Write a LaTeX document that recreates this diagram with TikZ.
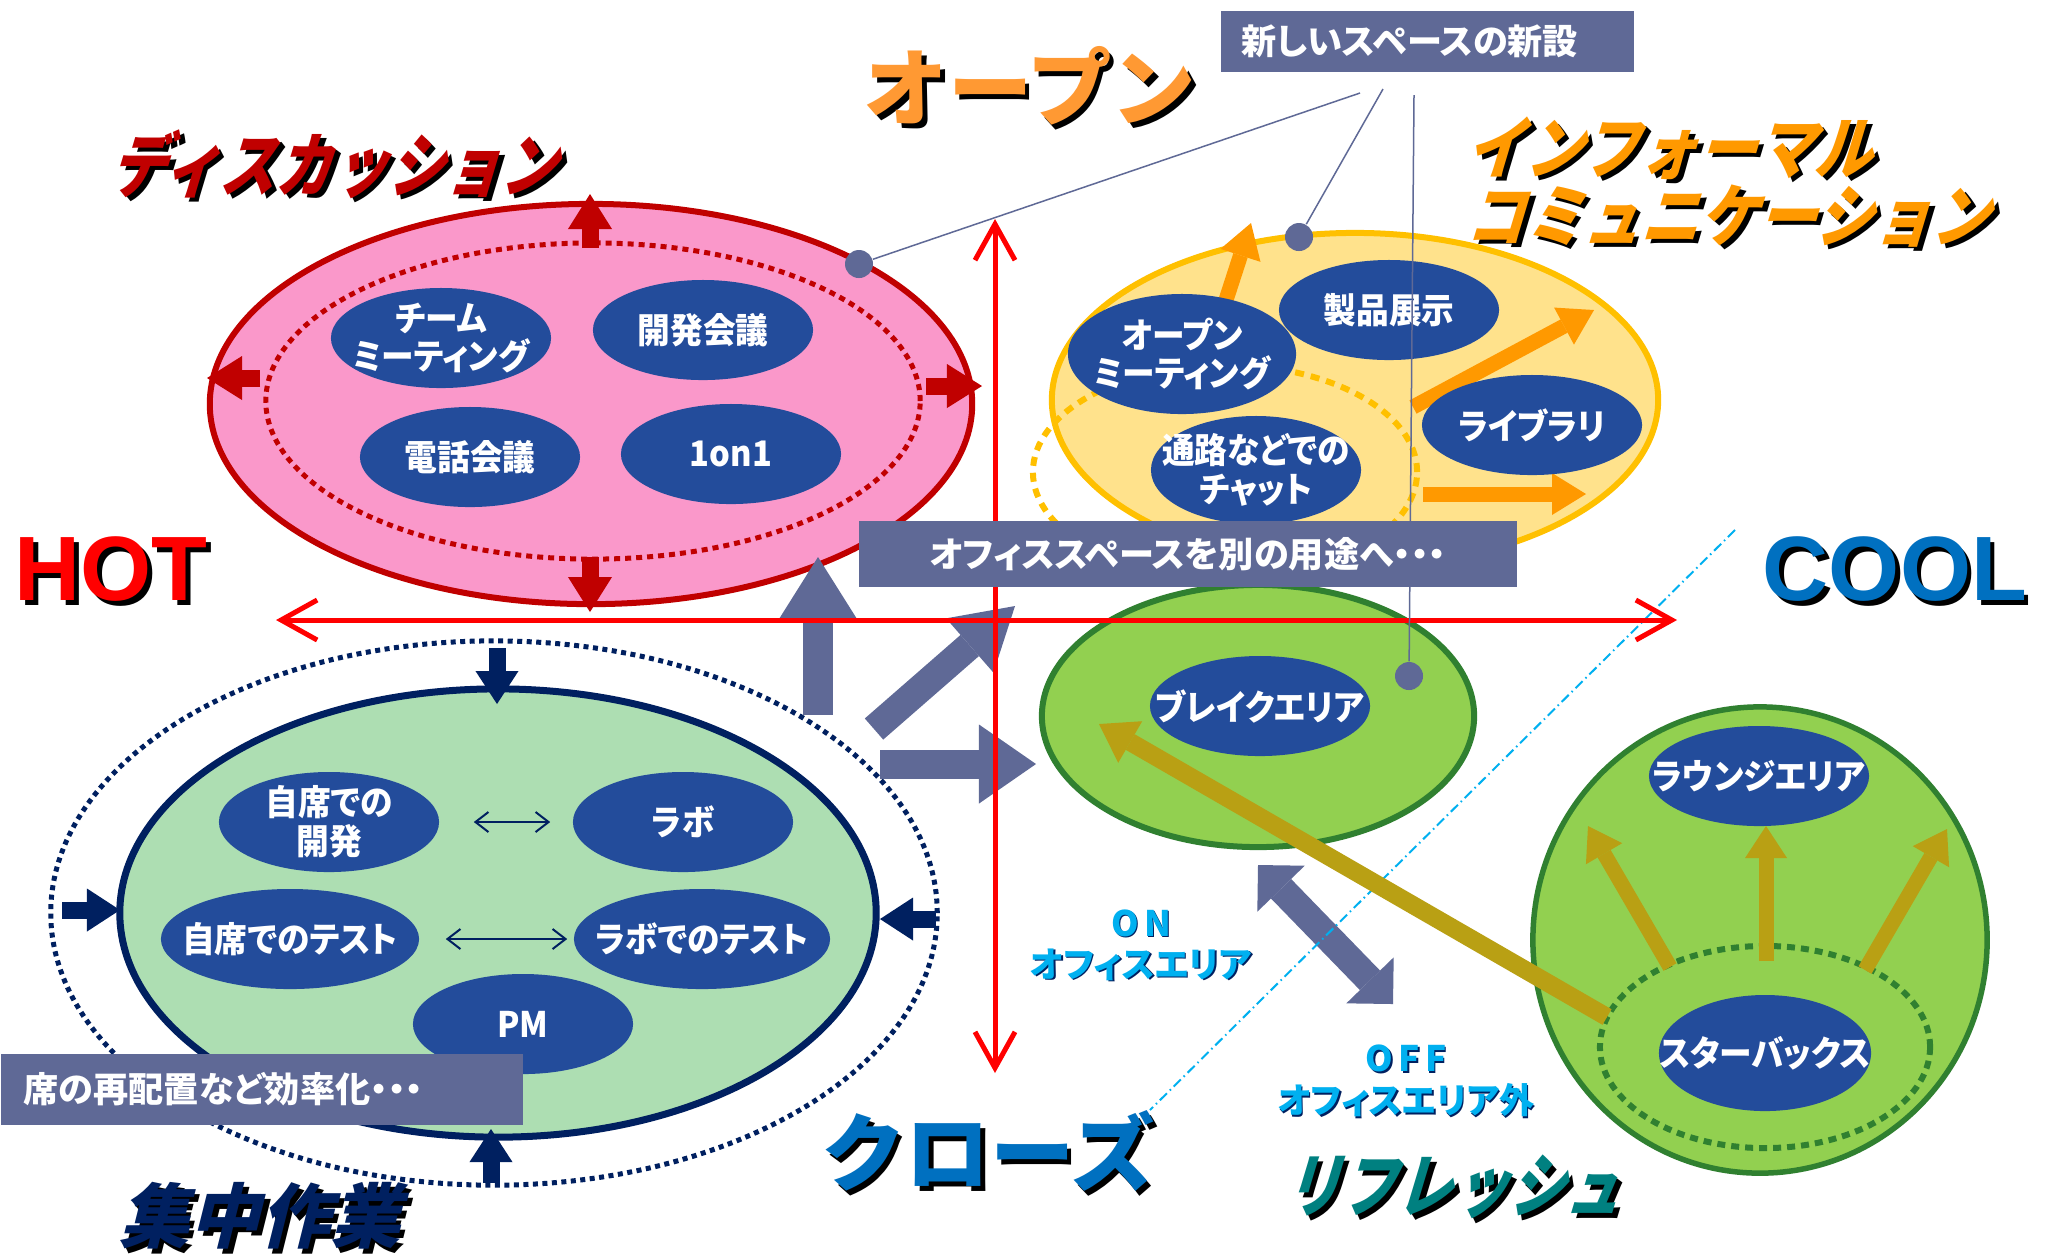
\documentclass[tikz,border=0pt]{standalone}
\usepackage{fontspec}
\setmainfont{Noto Sans CJK JP}
\newfontfamily\jp{Noto Sans CJK JP}[RawFeature=+palt]
\newfontfamily\jpn{Noto Sans CJK JP}[RawFeature=+palt,FakeStretch=0.93]
\newfontfamily\ttlA{Noto Sans CJK JP}[FakeSlant=0.3,FakeStretch=0.8]
\newfontfamily\ttlB{Noto Sans CJK JP}[FakeSlant=0.3,FakeStretch=0.85]
\newfontfamily\ttlC{Noto Sans CJK JP}[FakeSlant=0.25]
\newfontfamily\ttlU{Noto Sans CJK JP}
\newfontfamily\lat{Liberation Sans}
\usetikzlibrary{arrows.meta,shapes.geometric}
\definecolor{dred}{RGB}{192,0,0}
\definecolor{pinkF}{RGB}{250,152,202}
\definecolor{blueE}{RGB}{35,76,155}
\definecolor{yellowF}{RGB}{255,226,140}
\definecolor{gold}{RGB}{255,192,0}
\definecolor{orangeA}{RGB}{255,153,0}
\definecolor{orangeT}{RGB}{255,153,51}
\definecolor{greenF}{RGB}{146,208,80}
\definecolor{greenD}{RGB}{48,128,48}
\definecolor{mint}{RGB}{173,222,178}
\definecolor{navy}{RGB}{0,32,96}
\definecolor{slate}{RGB}{95,105,150}
\definecolor{olive}{RGB}{185,160,20}
\definecolor{cyanL}{RGB}{0,176,240}
\definecolor{tealT}{RGB}{0,128,128}
\definecolor{blueT}{RGB}{0,112,192}
\newcommand{\mytitle}[5]{%
 \node[inner sep=0pt,#4,text=black,xshift=0.045cm,yshift=-0.045cm] (#1S) at (#2,#3) {#5};
 \node[inner sep=0pt,#4] (#1) at (#2,#3) {#5};}
\newcommand{\bell}[5]{%
 \node[blueell,#4] (#1) at (#2,#3) {};
 \node[blt] (#1T) at (#2,#3) {#5};}
\begin{document}
\begin{tikzpicture}[x=0.01cm,y=-0.01cm,
 blueell/.style={ellipse, fill=blueE, inner sep=0pt, minimum width=2.2cm, minimum height=1.0cm},
 blt/.style={text=white, font=\jpn\bfseries\fontsize{10}{11}\selectfont, align=center, inner sep=0pt},
 bigell/.style={ellipse, inner sep=0pt},
 redblk/.style={dred, line width=0.17cm, -{Triangle[length=0.35cm,width=0.44cm,line width=0pt]}},
 navblk/.style={navy, line width=0.17cm, -{Triangle[length=0.33cm,width=0.43cm,line width=0pt]}},
 orblk/.style={orangeA, line width=0.15cm, -{Triangle[length=0.34cm,width=0.42cm,line width=0pt]}},
 olblk/.style={olive, line width=0.15cm, -{Triangle[length=0.32cm,width=0.42cm,line width=0pt]}},
 thinarr/.style={navy, line width=0.02cm, {Straight Barb[length=0.13cm,width=0.2cm]}-{Straight Barb[length=0.13cm,width=0.2cm]}},
 axis/.style={red, line width=0.05cm, {Straight Barb[length=0.36cm,width=0.4cm]}-{Straight Barb[length=0.36cm,width=0.4cm]}},
 greybox/.style={fill=slate, text=white, font=\jp\bfseries\fontsize{10}{12}\selectfont, inner ysep=0pt},
 leader/.style={slate, line width=0.015cm},
 dotnode/.style={circle, fill=slate, inner sep=0pt, minimum size=0.28cm}
]
\fill[white] (0,0) rectangle (2055,1253);
\useasboundingbox (0,0) rectangle (2055,1253);

% ---------- Discussion (pink)
\node[bigell, draw=dred, line width=0.06cm, fill=pinkF, minimum width=7.62cm, minimum height=4.0cm] (disc) at (591,404) {};
\draw[dred, line width=0.05cm, dash pattern=on 0.06cm off 0.05cm] (593,401) ellipse [x radius=3.27cm, y radius=1.58cm];
\draw[redblk] (590,248) -- (590,194);
\draw[redblk] (260,378) -- (207,378);
\draw[redblk] (926,386) -- (982,386);
\draw[redblk] (590,557) -- (590,612);
\bell{team}{441}{338}{}{チーム\\ミーティング}
\bell{kaigi}{703}{330}{}{開発会議}
\bell{denwa}{470}{457}{}{電話会議}
\bell{oneon}{731}{454}{}{1on1}

% ---------- Informal (yellow)
\node[bigell, draw=gold, line width=0.06cm, fill=yellowF, minimum width=6.06cm, minimum height=3.34cm] (info) at (1355,400) {};
\draw[gold, line width=0.06cm, dash pattern=on 0.09cm off 0.07cm] (1225,472) ellipse [x radius=1.92cm, y radius=1.07cm];
\draw[orblk] (1226,300) -- (1251,223);
\draw[orblk] (1413,407) -- (1594,310);
\draw[orblk] (1423,494) -- (1586,494);
\bell{openmt}{1182}{354}{minimum width=2.28cm, minimum height=1.2cm}{オープン\\ミーティング}
\bell{seihin}{1389}{310}{}{製品展示}
\bell{lib}{1532}{425}{}{ライブラリ}
\bell{tsuro}{1256}{470}{minimum width=2.1cm, minimum height=1.08cm}{通路などでの\\チャット}

% ---------- Break area (green)
\node[bigell, draw=greenD, line width=0.06cm, fill=greenF, minimum width=4.32cm, minimum height=2.62cm] (brk) at (1258,716) {};
\bell{brkA}{1260}{706}{}{ブレイクエリア}

% ---------- Refresh (big green)
\node[bigell, draw=greenD, line width=0.055cm, fill=greenF, minimum width=4.54cm, minimum height=4.66cm] (ref) at (1760,940) {};
\draw[greenD, line width=0.06cm, dash pattern=on 0.08cm off 0.06cm] (1765,1047) ellipse [x radius=1.65cm, y radius=1.01cm];
\draw[olblk] (1670,967) -- (1588,826);
\draw[olblk] (1766,961) -- (1766,826);
\draw[olblk] (1865,970) -- (1947,829);
\bell{lounge}{1759}{776}{}{ラウンジエリア}
\bell{sbux}{1765}{1053}{minimum width=2.12cm, minimum height=1.16cm}{スターバックス}

% ---------- Focus (navy)
\draw[navy, line width=0.05cm, dash pattern=on 0.05cm off 0.045cm] (494,913) ellipse [x radius=4.43cm, y radius=2.72cm];
\node[bigell, draw=navy, line width=0.07cm, fill=mint, minimum width=7.56cm, minimum height=4.48cm] (focus) at (498,913) {};
\draw[navblk] (497,648) -- (497,704);
\draw[navblk] (62,910) -- (120,910);
\draw[navblk] (936,919) -- (880,919);
\draw[navblk] (491,1183) -- (491,1129);
\bell{jkai}{329}{822}{}{自席での\\開発}
\bell{labo}{683}{822}{}{ラボ}
\bell{jtest}{290}{939}{minimum width=2.58cm}{自席でのテスト}
\bell{ltest}{702}{939}{minimum width=2.56cm}{ラボでのテスト}
\bell{pm}{523}{1024}{}{PM}
\draw[thinarr, shorten <=0.34cm, shorten >=0.22cm] (jkai) -- (labo);
\draw[thinarr, shorten <=0.26cm, shorten >=0.06cm] (jtest) -- (ltest);

% ---------- grey block arrows
\coordinate (gu1) at (818,715); \coordinate (gu2) at (818,557);
\coordinate (gd1) at (874,729); \coordinate (gd2) at (1015,606);
\coordinate (gr1) at (880,764); \coordinate (gr2) at (1036,764);
\coordinate (gb1) at (1258,865); \coordinate (gb2) at (1393,1004);
\draw[slate, line width=0.30cm, -{Triangle[length=0.62cm,width=0.78cm,line width=0pt]}] (gu1) -- (gu2);
\draw[slate, line width=0.28cm, -{Triangle[length=0.6cm,width=0.72cm,line width=0pt]}] (gd1) -- (gd2);
\draw[slate, line width=0.29cm, -{Triangle[length=0.57cm,width=0.79cm,line width=0pt]}] (gr1) -- (gr2);
\draw[slate, line width=0.28cm, {Triangle[length=0.33cm,width=0.66cm,line width=0pt]}-{Triangle[length=0.33cm,width=0.66cm,line width=0pt]}] (gb1) -- (gb2);

% ---------- cyan divider
\coordinate (cy1) at (1735,530); \coordinate (cy2) at (1150,1110);
\draw[cyanL, line width=0.02cm, dash pattern=on 0.1cm off 0.04cm on 0.015cm off 0.04cm] (cy1) -- (cy2);

% ---------- olive long arrow
\coordinate (ol1) at (1607,1017); \coordinate (ol2) at (1099,724);
\draw[olive, line width=0.18cm, -{Triangle[length=0.36cm,width=0.48cm,line width=0pt]}] (ol1) -- (ol2);

% ---------- axes
\coordinate (hl) at (276,620); \coordinate (hr) at (1677,620);
\coordinate (vt) at (995,219); \coordinate (vb) at (995,1073);
\draw[axis] (hl) -- (hr);
\draw[axis] (vt) -- (vb);

% ---------- boxes
\node[greybox, anchor=north west, minimum height=0.61cm, text width=3.71cm, inner xsep=0.21cm, align=left] (newsp) at (1220,10) {新しいスペースの新設};
\node[greybox, anchor=north west, minimum width=6.58cm, minimum height=0.66cm] (office) at (858,520) {オフィススペースを別の用途へ・・・};
\node[greybox, anchor=north west, minimum height=0.71cm, text width=4.76cm, inner xsep=0.23cm, align=left] (seat) at (0,1053) {席の再配置など効率化・・・};

% ---------- leaders
\coordinate (l1) at (1360,93); \coordinate (l2) at (1383,89); \coordinate (l3) at (1414,95);
\node[dotnode] (dot1) at (859,264) {};
\node[dotnode] (dot2) at (1299,237) {};
\node[dotnode] (dot3) at (1409,676) {};
\draw[leader] (l1) -- (dot1);
\draw[leader] (l2) -- (dot2);
\draw[leader] (l3) -- (dot3);

% ---------- ON / OFF
\node[font=\jp\bfseries\fontsize{10}{11.7}\selectfont, text=navy, align=center, xshift=0.015cm, yshift=-0.015cm] (onS) at (1141,945) {O\kern1.5pt N\\オフィスエリア};
\node[font=\jp\bfseries\fontsize{10}{11.7}\selectfont, text=cyanL, align=center] (on) at (1141,945) {O\kern1.5pt N\\オフィスエリア};
\node[font=\jp\bfseries\fontsize{10}{12}\selectfont, text=navy, align=center, xshift=0.015cm, yshift=-0.015cm] (offS) at (1406,1081) {O\kern1.5pt F\kern1.5pt F\\オフィスエリア外};
\node[font=\jp\bfseries\fontsize{10}{12}\selectfont, text=cyanL, align=center] (off) at (1406,1081) {O\kern1.5pt F\kern1.5pt F\\オフィスエリア外};

% ---------- titles
\mytitle{open}{1030}{86}{font=\ttlU\bfseries\fontsize{24}{24}\selectfont, text=orangeT}{オープン}
\mytitle{close}{988}{1151}{font=\ttlU\bfseries\fontsize{24}{24}\selectfont, text=blueT}{クローズ}
\mytitle{hot}{111}{569}{font=\lat\bfseries\fontsize{26}{26}\selectfont, text=red}{HOT}
\mytitle{cool}{1895}{569}{font=\lat\bfseries\fontsize{26}{26}\selectfont, text=blueT}{COOL}
\mytitle{discuss}{333}{164}{font=\ttlA\bfseries\fontsize{20}{20}\selectfont, text=dred}{ディスカッション}
\mytitle{infA}{1465}{148}{anchor=west, font=\ttlB\bfseries\fontsize{19.5}{20}\selectfont, text=orangeA}{インフォーマル}
\mytitle{infB}{1465}{216}{anchor=west, font=\ttlB\bfseries\fontsize{19.5}{20}\selectfont, text=orangeA}{コミュニケーション}
\mytitle{focusT}{260}{1216}{font=\ttlC\bfseries\fontsize{20}{20}\selectfont, text=navy}{集中作業}
\mytitle{refT}{1452}{1187}{font=\ttlA\bfseries\fontsize{20}{20}\selectfont, text=tealT}{リフレッシュ}
\end{tikzpicture}
\end{document}
